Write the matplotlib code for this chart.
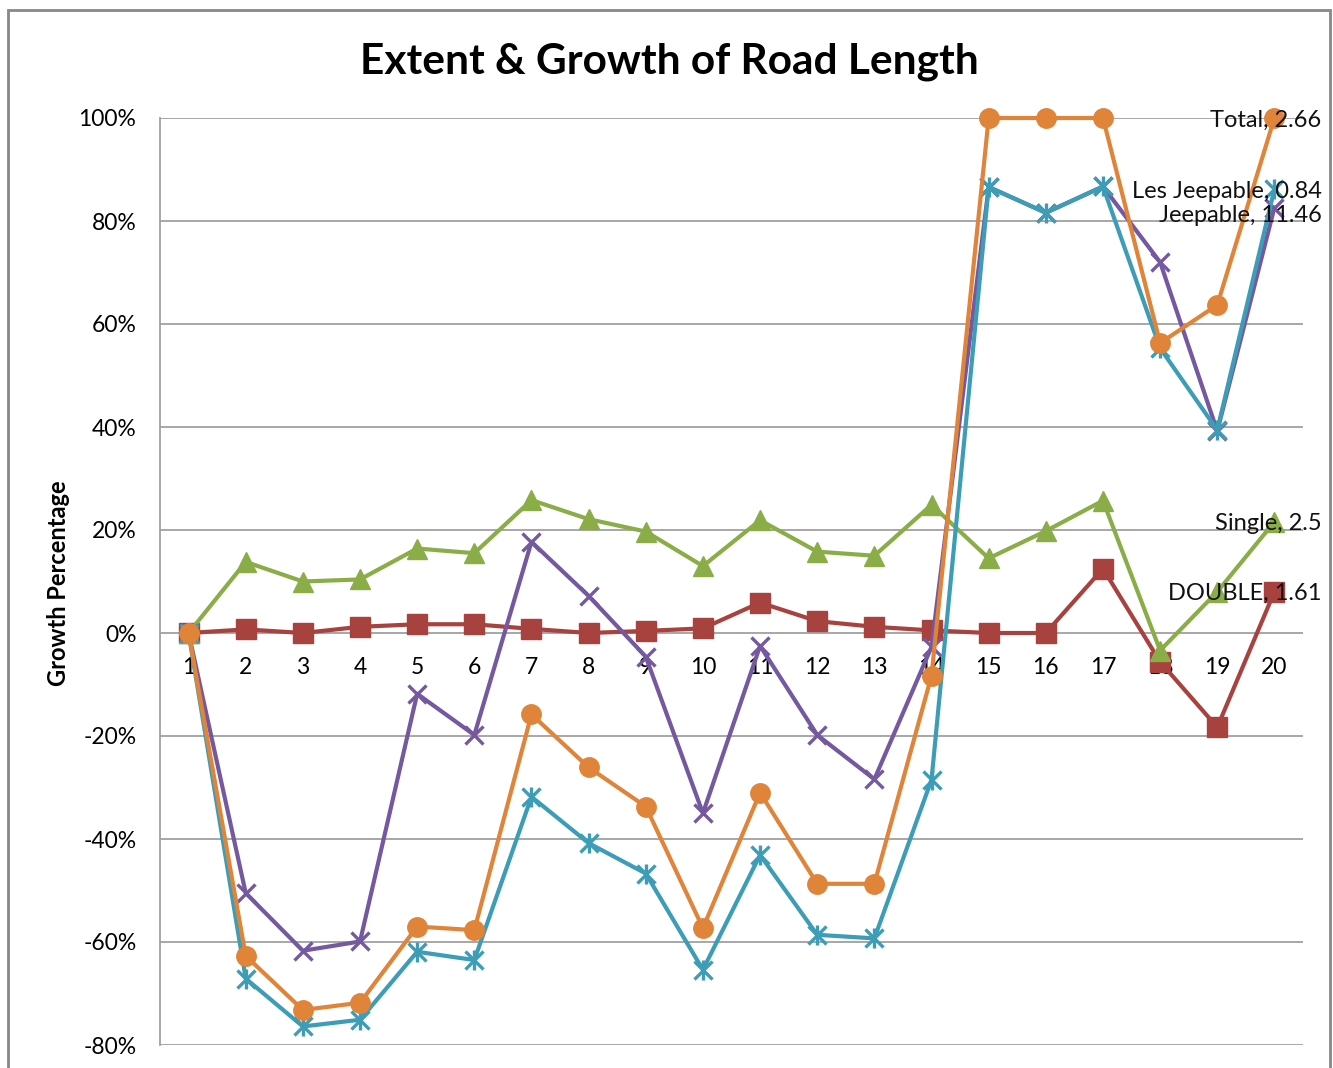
import matplotlib
matplotlib.use("Agg")
import matplotlib.pyplot as plt
from matplotlib.patches import Rectangle
from matplotlib.ticker import FuncFormatter

plt.rcParams['font.family'] = ['Lato', 'DejaVu Sans']

years = list(range(1, 21))

double = [0, 0.7, 0, 1.2, 1.7, 1.7, 0.8, 0, 0.4, 0.9, 5.9, 2.3, 1.2, 0.5, 0, 0, 12.5, -5.6, -18.3, 8.0]
single = [0, 13.8, 10.0, 10.4, 16.4, 15.5, 25.8, 22.1, 19.7, 13.0, 21.9, 15.8, 15.0, 24.9, 14.5, 19.8, 25.7, -3.4, 8.0, 21.6]
jeepable = [0, -50.5, -61.7, -59.9, -11.8, -19.8, 17.7, 7.2, -4.6, -35.0, -2.5, -19.8, -28.4, -2.7, 86.6, 81.6, 86.7, 72.0, 39.2, 82.6]
les_jeepable = [0, -67.1, -76.4, -75.1, -61.9, -63.5, -31.8, -40.8, -46.7, -65.4, -43.1, -58.6, -59.3, -28.5, 86.6, 81.6, 86.7, 55.3, 39.4, 86.2]
total = [0, -62.7, -73.2, -71.8, -57.0, -57.7, -15.8, -26.1, -33.7, -57.3, -31.0, -48.7, -48.7, -8.3, 100, 100, 100, 56.3, 63.7, 100]

end_labels = ["DOUBLE, 1.61", "Single, 2.5", "Jeepable, 11.46", "Les Jeepable, 0.84", "Total, 2.66"]

c_double = '#A8423F'
c_single = '#8BAD48'
c_jeep = '#7459A0'
c_les = '#3D9DB6'
c_total = '#E0843A'

fig = plt.figure(figsize=(13.33, 10.68), dpi=100)
ax = fig.add_axes([160/1333, 1 - 1045/1068, (1303-160)/1333, (1045-118)/1068])

lw = 3
ax.plot(years, double, color=c_double, lw=lw, marker='s', ms=14, clip_on=False, zorder=3)
ax.plot(years, single, color=c_single, lw=lw, marker='^', ms=14, clip_on=False, zorder=4)
ax.plot(years, jeepable, color=c_jeep, lw=lw, marker='x', ms=13, mew=2.4, clip_on=False, zorder=5)
ax.plot(years, les_jeepable, color=c_les, lw=lw, marker='x', ms=13, mew=2.4, clip_on=False, zorder=6)
ax.plot(years, les_jeepable, color=c_les, lw=0, marker='|', ms=15, mew=2.4, clip_on=False, zorder=6)
ax.plot(years, total, color=c_total, lw=lw, marker='o', ms=14, clip_on=False, zorder=7)

last_vals = [double[-1], single[-1], jeepable[-1], les_jeepable[-1], total[-1]]
nudges = [-1, -1.5, -6, -2, -1.5]  # points, vertical
for lab, v, dy in zip(end_labels, last_vals, nudges):
    ax.annotate(lab, xy=(20, v), xytext=(34, dy), textcoords='offset points',
                ha='right', va='center', fontsize=17, color='#111111', zorder=10)

ax.set_xlim(0.5, 20.5)
ax.set_ylim(-80, 100)
ax.set_yticks(range(-80, 101, 20))
ax.yaxis.set_major_formatter(FuncFormatter(lambda v, p: f"{int(v)}%"))
ax.set_xticks(years)
ax.grid(axis='y', color='#A0A0A0', lw=1.3)
ax.set_axisbelow(True)

for s in ['top', 'right', 'bottom']:
    ax.spines[s].set_visible(False)
ax.spines['left'].set_color('#A0A0A0')
ax.spines['left'].set_linewidth(1.3)

ax.tick_params(axis='y', length=0, pad=17, labelsize=16.5)
ax.tick_params(axis='x', length=0, pad=17, labelsize=16.5)
# category labels sit just under the zero line
ax.xaxis.set_ticks_position('bottom')
ax.spines['bottom'].set_position(('data', 0))

fig.text(669/1333, 1 - 62/1068, "Extent & Growth of Road Length", ha='center', va='center',
         fontsize=30.5, fontweight='bold')
fig.text(58/1333, 1 - 583/1068, "Growth Percentage", rotation=90, ha='center', va='center',
         fontsize=17, fontweight='bold')

fig.patches.append(Rectangle((8/1333, -0.01), (1330-8)/1333, 1 - 10/1068 + 0.01,
                             transform=fig.transFigure, fill=False, edgecolor='#888888', lw=2))

fig.savefig("out.png", dpi=100)
